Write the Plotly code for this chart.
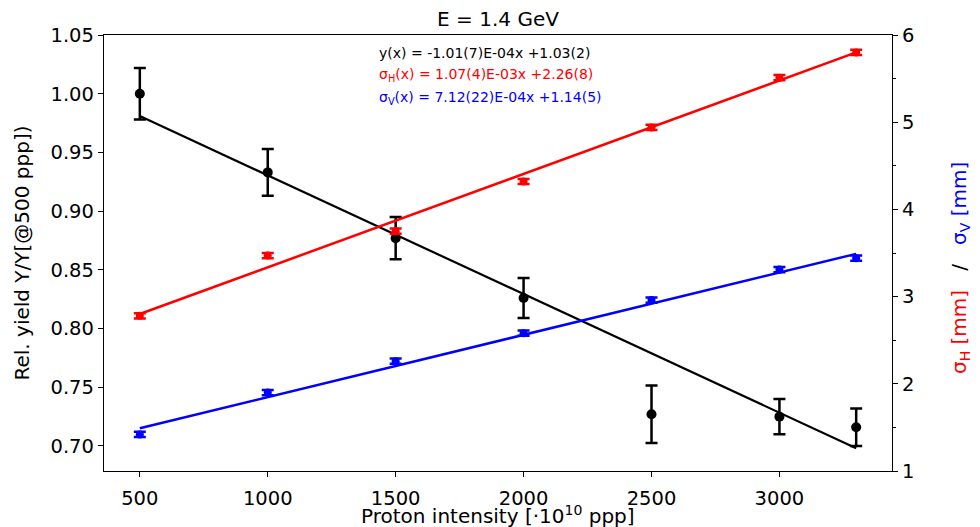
import plotly.graph_objects as go

# ---- data ----
intensity = [500, 1000, 1500, 2000, 2500, 3000, 3300]
rel_yield = [1.000, 0.933, 0.877, 0.826, 0.727, 0.725, 0.716]
rel_yield_err = [0.022, 0.020, 0.018, 0.017, 0.0245, 0.015, 0.016]
sigma_h = [2.78, 3.47, 3.75, 4.32, 4.94, 5.51, 5.80]
sigma_v = [1.42, 1.90, 2.26, 2.58, 2.96, 3.31, 3.44]
sigma_err = [0.03, 0.03, 0.03, 0.03, 0.03, 0.03, 0.03]

fit_x = [500, 3300]
fit_yield = [0.981, 0.698]
fit_sigma_h = [2.80, 5.80]
fit_sigma_v = [1.49, 3.49]

x_ticks = [500, 1000, 1500, 2000, 2500, 3000]
y_ticks = [0.70, 0.75, 0.80, 0.85, 0.90, 0.95, 1.00, 1.05]
y2_ticks = [1, 2, 3, 4, 5, 6]

title_text = "E = 1.4 GeV"
x_title = "Proton intensity [·10<sup>10</sup> ppp]"
y_title = "Rel. yield Y/Y[@500 ppp])"
y2_title = ('<span style="color:red">σ<sub>H</sub> [mm]</span>'
            '\u00a0\u00a0\u00a0/\u00a0\u00a0\u00a0'
            '<span style="color:blue">σ<sub>V</sub> [mm]</span>')
fit_texts = [
    ("y(x) = -1.01(7)E-04x +1.03(2)", "black"),
    ("σ<sub>H</sub>(x) = 1.07(4)E-03x +2.26(8)", "red"),
    ("σ<sub>V</sub>(x) = 7.12(22)E-04x +1.14(5)", "blue"),
]

FONT = "DejaVu Sans"

fig = go.Figure()

fig.add_trace(go.Scatter(
    x=intensity, y=rel_yield, mode="markers",
    marker=dict(color="black", size=10),
    error_y=dict(type="data", array=rel_yield_err, color="black", thickness=2.5, width=6),
    showlegend=False))
fig.add_trace(go.Scatter(
    x=fit_x, y=fit_yield, mode="lines",
    line=dict(color="black", width=2.2), showlegend=False))

fig.add_trace(go.Scatter(
    x=fit_x, y=fit_sigma_h, mode="lines", yaxis="y2",
    line=dict(color="red", width=2.5), showlegend=False))
fig.add_trace(go.Scatter(
    x=intensity, y=sigma_h, mode="markers", yaxis="y2",
    marker=dict(color="red", size=8),
    error_y=dict(type="data", array=sigma_err, color="red", thickness=2.5, width=6),
    showlegend=False))

fig.add_trace(go.Scatter(
    x=fit_x, y=fit_sigma_v, mode="lines", yaxis="y2",
    line=dict(color="blue", width=2.5), showlegend=False))
fig.add_trace(go.Scatter(
    x=intensity, y=sigma_v, mode="markers", yaxis="y2",
    marker=dict(color="blue", size=8),
    error_y=dict(type="data", array=sigma_err, color="blue", thickness=2.5, width=6),
    showlegend=False))

annotations = []
for i, (t, c) in enumerate(fit_texts):
    annotations.append(dict(
        text=t, xref="paper", yref="paper", x=0.347, y=0.959 - i * 0.0515,
        xanchor="left", yanchor="middle", showarrow=False,
        font=dict(family=FONT, size=14, color=c)))

# x-axis title
annotations.append(dict(
    text=x_title, xref="paper", yref="paper", x=0.5, y=-0.101,
    xanchor="center", yanchor="middle", showarrow=False,
    font=dict(family=FONT, size=20, color="black")))
# right axis title (two-coloured)
annotations.append(dict(
    text=y2_title, xref="paper", yref="paper", x=1.086, y=0.465,
    xanchor="center", yanchor="middle", textangle=-90, showarrow=False,
    font=dict(family=FONT, size=20, color="black")))

axis_common = dict(showgrid=False, zeroline=False, showline=True, linecolor="black",
                   linewidth=1.3, ticks="outside", ticklen=5, tickwidth=1.3,
                   tickcolor="black", automargin=False,
                   tickfont=dict(family=FONT, size=19.5, color="black"))

# the page body adds an 8px offset, compensated in the margins
fig.update_layout(
    width=980, height=527,
    margin=dict(l=96, r=96, t=26.5, b=64),
    paper_bgcolor="white", plot_bgcolor="white",
    title=dict(text=title_text, x=0.5, xref="paper", xanchor="center",
               y=1, yref="paper", yanchor="bottom", pad=dict(b=9), automargin=False,
               font=dict(family=FONT, size=20, color="black")),
    xaxis=dict(range=[360, 3440], tickvals=x_ticks, mirror=True,
               ticklabelstandoff=4, **axis_common),
    yaxis=dict(range=[0.6787, 1.05], tickvals=y_ticks, tickformat=".2f",
               title=dict(text=y_title, standoff=15,
                          font=dict(family=FONT, size=20, color="black")),
               **axis_common),
    yaxis2=dict(range=[1, 6], tickvals=y2_ticks, overlaying="y", side="right",
                minor=dict(ticks="outside", ticklen=3, tickwidth=1.2, dtick=0.5, tickcolor="black"),
                **axis_common),
    annotations=annotations,
)

fig.write_html("out.html")
